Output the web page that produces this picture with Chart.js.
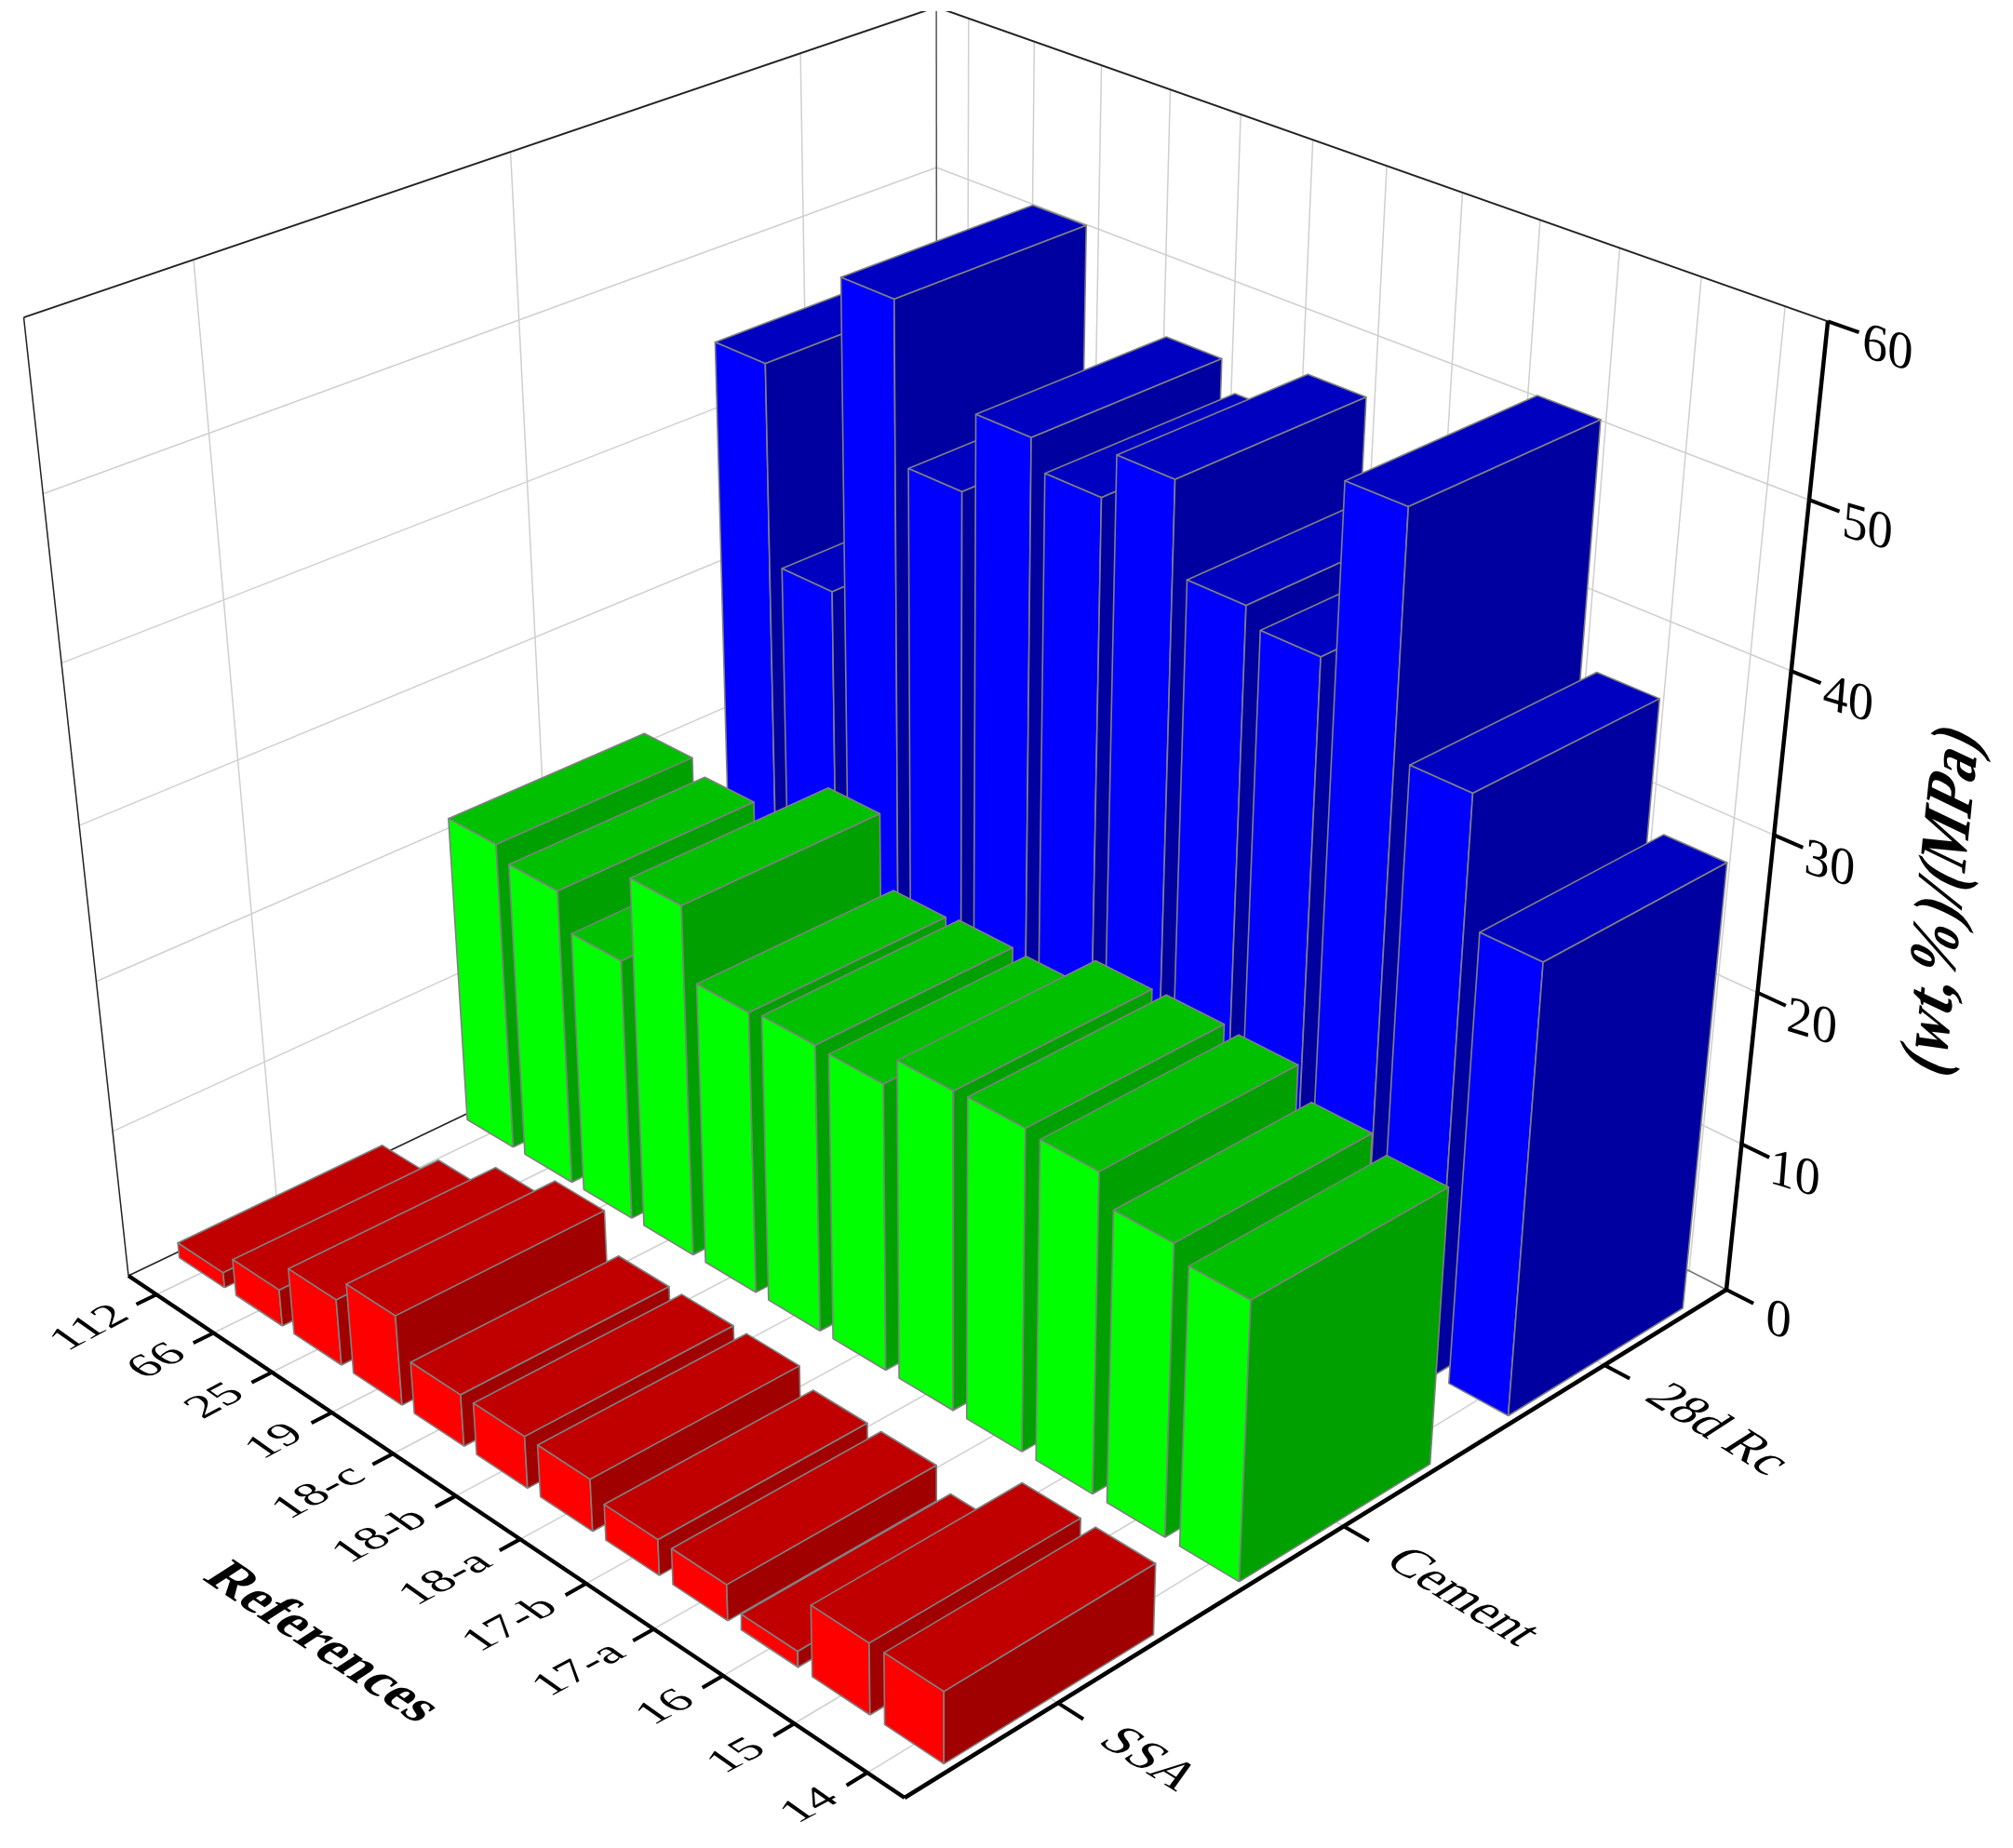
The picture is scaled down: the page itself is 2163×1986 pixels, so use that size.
<!DOCTYPE html>
<html>
<head>
<meta charset="utf-8">
<title>3D bars</title>
<style>
  html, body { margin: 0; padding: 0; background: #fff; }
  canvas { display: block; }
</style>
<script src="https://cdn.jsdelivr.net/npm/chart.js@4/dist/chart.umd.min.js"></script>
</head>
<body>
<canvas id="c" width="2163" height="1986" style="width:2163px;height:1986px"></canvas>
<script>
// ordered from the front corner to the back wall
const references = ["14", "15", "16", "17-a", "17-b", "18-a", "18-b", "18-c", "19", "25", "66", "112"];
const seriesNames = ["SSA", "Cement", "28d Rc"];
const ssaValues = [4.7, 4.7, 1.05, 2.4, 2.4, 3.5, 3.5, 3.5, 6.1, 4.5, 2.5, 1.05];
const cementValues = [18.2, 19.1, 21, 21.2, 21.1, 19.1, 19.2, 18.95, 23.6, 17.7, 20.1, 21];
const rcValues = [29.35, 37.3, 51.9, 41.3, 42.4, 48, 45.1, 46.9, 41.8, 51.8, 31.7, 44.5];
const zTicks = [0, 10, 20, 30, 40, 50, 60];
const zMax = 60;

const frontFaces = ["#ff0000", "#00ff00", "#0000ff"];
const topFaces = ["#c00000", "#00c000", "#0000c0"];
const sideFaces = ["#a00000", "#00a000", "#0000a0"];
const edgeColor = "#808080";
const gridColor = "#cfcfcf";

// box corners as seen in the picture, used to set up the projection
const cornerF = [972, 1932], cornerL = [138, 1371], cornerB = [1007, 955], cornerR = [1855, 1386];
const topL = [25, 340], topB = [1007, 4.5], topR = [1958, 350];
const vanish = [1015, 9400];
const barShareU = 0.8, barShareV = 0.7;

const dx1 = cornerL[0] - cornerB[0], dx2 = cornerR[0] - cornerB[0];
const dy1 = cornerL[1] - cornerB[1], dy2 = cornerR[1] - cornerB[1];
const sx = cornerF[0] - cornerL[0] + cornerB[0] - cornerR[0];
const sy = cornerF[1] - cornerL[1] + cornerB[1] - cornerR[1];
const den = dx1 * dy2 - dx2 * dy1;
const g = (sx * dy2 - dx2 * sy) / den;
const h = (dx1 * sy - sx * dy1) / den;
const a = cornerL[0] - cornerF[0] + g * cornerL[0];
const b = cornerR[0] - cornerF[0] + h * cornerR[0];
const d = cornerL[1] - cornerF[1] + g * cornerL[1];
const e = cornerR[1] - cornerF[1] + h * cornerR[1];

function heightScale(u, v, topY) {
    const Y = d * u + e * v + cornerF[1];
    const W = g * u + h * v + 1;
    return (topY * W - Y) / (vanish[1] - topY);
}
const s = (heightScale(1, 0, topL[1]) + heightScale(1, 1, topB[1]) + heightScale(0, 1, topR[1])) / 3;

// u: along the references axis, v: along the series axis, value: height
function project(u, v, value) {
    const z = value / zMax;
    const W = g * u + h * v + 1 + z * s;
    return {
        x: (a * u + b * v + cornerF[0] + z * s * vanish[0]) / W,
        y: (d * u + e * v + cornerF[1] + z * s * vanish[1]) / W,
    };
}

const uOf = (i) => (i + 0.5) / references.length;
const vOf = (j) => (j + 0.5) / seriesNames.length;

const painted = [];

function addLine(points, color, width) {
    painted.push({ data: points, showLine: true, fill: false, borderColor: color, borderWidth: width, pointRadius: 0 });
}

function addFace(points, color) {
    painted.push({
        data: points.concat([points[0]]),
        showLine: true,
        fill: "shape",
        backgroundColor: color,
        borderColor: edgeColor,
        borderWidth: 1.6,
        pointRadius: 0,
        borderJoinStyle: "round",
    });
}

// walls and floor
zTicks.slice(1, -1).forEach((t) => {
    addLine([project(1, 0, t), project(1, 1, t)], gridColor, 1.5);
    addLine([project(1, 1, t), project(0, 1, t)], gridColor, 1.5);
});
references.forEach((r, i) => {
    addLine([project(uOf(i), 0, 0), project(uOf(i), 1, 0)], gridColor, 1.5);
    addLine([project(uOf(i), 1, 0), project(uOf(i), 1, zMax)], gridColor, 1.5);
});
seriesNames.forEach((n, j) => {
    addLine([project(0, vOf(j), 0), project(1, vOf(j), 0)], gridColor, 1.5);
    addLine([project(1, vOf(j), 0), project(1, vOf(j), zMax)], gridColor, 1.5);
});
addLine([project(1, 0, 0), project(1, 1, 0)], "#222222", 1.5);
addLine([project(1, 1, 0), project(0, 1, 0)], "#777777", 1.5);
addLine([project(1, 1, 0), project(1, 1, zMax)], "#555555", 1.5);
addLine([project(1, 0, 0), project(1, 0, zMax)], "#222222", 1.5);
addLine([project(1, 0, zMax), project(1, 1, zMax)], "#222222", 2);
addLine([project(1, 1, zMax), project(0, 1, zMax)], "#222222", 2);

// bars, back to front
const allValues = [ssaValues, cementValues, rcValues];
for (let j = seriesNames.length - 1; j >= 0; j--) {
    for (let i = references.length - 1; i >= 0; i--) {
        const val = allValues[j][i];
        const halfU = barShareU / references.length / 2;
        const halfV = barShareV / seriesNames.length / 2;
        const u0 = uOf(i) - halfU, u1 = uOf(i) + halfU;
        const v0 = vOf(j) - halfV, v1 = vOf(j) + halfV;
        addFace([project(u0, v0, val), project(u1, v0, val), project(u1, v1, val), project(u0, v1, val)], topFaces[j]);
        addFace([project(u0, v0, 0), project(u1, v0, 0), project(u1, v0, val), project(u0, v0, val)], frontFaces[j]);
        addFace([project(u0, v0, 0), project(u0, v1, 0), project(u0, v1, val), project(u0, v0, val)], sideFaces[j]);
    }
}

// axes and ticks on top
addLine([project(0, 0, 0), project(1, 0, 0)], "#000000", 4.5);
addLine([project(0, 0, 0), project(0, 1, 0)], "#000000", 4.5);
addLine([project(0, 1, 0), project(0, 1, zMax)], "#000000", 4.5);
references.forEach((r, i) => addLine([project(uOf(i), 0, 0), project(uOf(i), -0.022, 0)], "#000000", 4));
seriesNames.forEach((n, j) => addLine([project(0, vOf(j), 0), project(-0.028, vOf(j), 0)], "#000000", 4));
zTicks.forEach((t) => addLine([project(0, 1, t), project(-0.03, 1, t)], "#000000", 4));

function drawText(ctx, chart, text, pos, matrix, font, align) {
    const px = chart.scales.x.getPixelForValue(pos.x);
    const py = chart.scales.y.getPixelForValue(pos.y);
    ctx.save();
    ctx.transform(matrix[0], matrix[1], matrix[2], matrix[3], px, py);
    ctx.font = font;
    ctx.textAlign = align;
    ctx.textBaseline = "middle";
    ctx.fillStyle = "#000000";
    ctx.fillText(text, 0, 0);
    ctx.restore();
}

const labelsPlugin = {
    id: "labels3d",
    afterDraw(chart) {
        const ctx = chart.ctx;
        const serif = '"Liberation Serif"';
        references.forEach((r, i) => {
            drawText(ctx, chart, r, project(uOf(i), -0.037, 0), [0.88, -0.47, 0.68, 0.48], "54px " + serif, "right");
        });
        seriesNames.forEach((n, j) => {
            drawText(ctx, chart, n, project(-0.055, vOf(j), 0), [0.85, 0.53, -0.85, 0.55], "55px " + serif, "left");
        });
        zTicks.forEach((t) => {
            drawText(ctx, chart, String(t), project(-0.058, 1, t - 0.4), [0.96, 0.29, -0.08, 1], "56px " + serif, "center");
        });
        drawText(ctx, chart, "References", { x: 345, y: 1766 }, [0.83, 0.56, -0.85, 0.55], "bold 60px " + serif, "center");
        drawText(ctx, chart, "(wt,%)/(MPa)", { x: 2089, y: 968 }, [0.1, -0.99, 1.15, 0.55], "bold 62px " + serif, "center");
    },
};

new Chart(document.getElementById("c"), {
    type: "scatter",
    data: { datasets: painted.slice().reverse() },
    options: {
        responsive: false,
        animation: false,
        layout: { padding: { top: 12 } },
        elements: { line: { tension: 0 } },
        plugins: { legend: { display: false }, tooltip: { enabled: false } },
        scales: {
            x: { type: "linear", display: false, min: 0, max: 2163 },
            y: { type: "linear", display: false, reverse: true, min: 12, max: 1986 },
        },
    },
    plugins: [labelsPlugin],
});
</script>
</body>
</html>
